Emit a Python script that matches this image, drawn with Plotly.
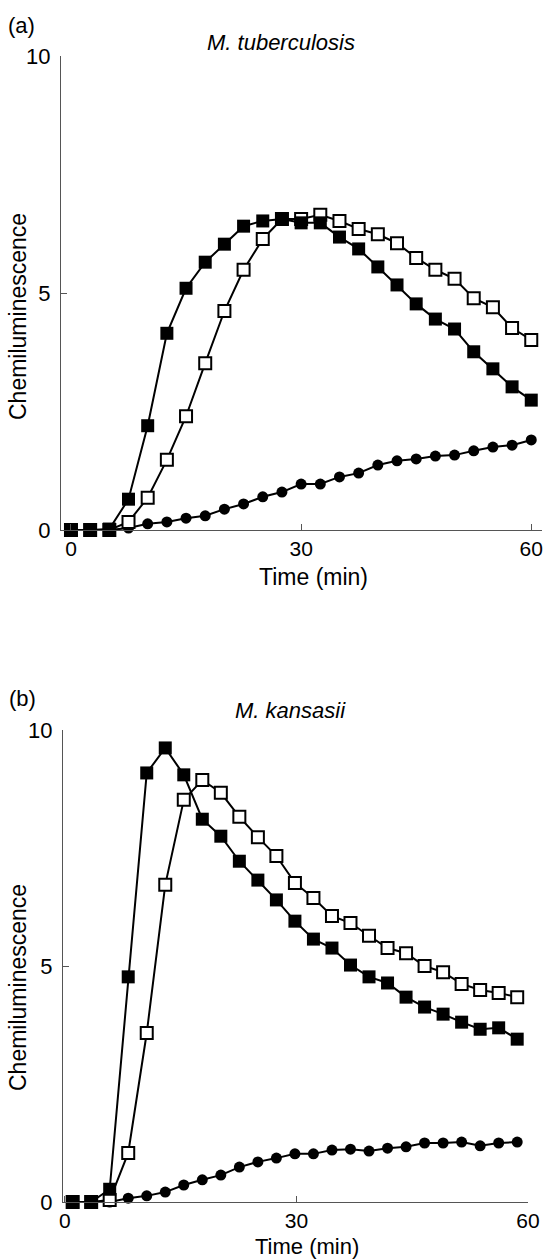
import plotly.graph_objects as go

# ---------------- data ----------------
# panel (a) M. tuberculosis
time_a = [0, 2.5, 5, 7.5, 10, 12.5, 15, 17.5, 20, 22.5, 25, 27.5, 30, 32.5, 35,
          37.5, 40, 42.5, 45, 47.5, 50, 52.5, 55, 57.5, 60]
filled_a = [0.0, 0.0, 0.02, 0.65, 2.2, 4.15, 5.1, 5.65, 6.03, 6.41, 6.52, 6.56,
            6.48, 6.48, 6.18, 5.93, 5.55, 5.17, 4.77, 4.45, 4.24, 3.76, 3.40, 3.02, 2.74]
open_a = [0.0, 0.0, 0.0, 0.17, 0.68, 1.48, 2.4, 3.52, 4.62, 5.49, 6.14, 6.56,
          6.56, 6.65, 6.52, 6.35, 6.24, 6.05, 5.74, 5.49, 5.30, 4.89, 4.70, 4.26, 4.01]
circle_a = [0.0, 0.0, 0.0, 0.04, 0.13, 0.17, 0.25, 0.30, 0.44, 0.55, 0.70, 0.80,
            0.97, 0.97, 1.12, 1.20, 1.37, 1.46, 1.50, 1.56, 1.58, 1.67, 1.75, 1.79, 1.90]

# panel (b) M. kansasii
time_b = [1.0, 3.4, 5.8, 8.2, 10.6, 13.0, 15.4, 17.8, 20.2, 22.6, 25.0, 27.4, 29.8,
          32.2, 34.6, 37.0, 39.4, 41.8, 44.2, 46.6, 49.0, 51.4, 53.8, 56.2, 58.6]
filled_b = [0.0, 0.0, 0.27, 4.77, 9.09, 9.62, 9.05, 8.11, 7.75, 7.22, 6.82, 6.40,
            5.95, 5.57, 5.38, 5.02, 4.77, 4.64, 4.34, 4.13, 3.98, 3.81, 3.66, 3.69, 3.45]
open_b = [0.0, 0.0, 0.04, 1.04, 3.58, 6.72, 8.52, 8.94, 8.67, 8.16, 7.73, 7.33,
          6.76, 6.44, 6.06, 5.91, 5.64, 5.38, 5.27, 5.00, 4.87, 4.62, 4.49, 4.43, 4.34]
circle_b = [0.0, 0.0, 0.0, 0.08, 0.13, 0.21, 0.36, 0.47, 0.57, 0.74, 0.85, 0.93,
            1.02, 1.02, 1.10, 1.12, 1.08, 1.14, 1.17, 1.25, 1.25, 1.27, 1.19, 1.25, 1.27]

x_ticks = [0, 30, 60]
y_ticks = [0, 5, 10]

W, H = 546, 1259
FONT = "Liberation Sans, Arial, Helvetica, sans-serif"
AX = "#555555"

fig = go.Figure()


def add_series(t, y, xa, ya, kind):
    if kind == "circle":
        marker = dict(symbol="circle", size=11, color="black", line=dict(width=0))
    elif kind == "open":
        marker = dict(symbol="square", size=12, color="white",
                      line=dict(color="black", width=2))
    else:
        marker = dict(symbol="square", size=13, color="black", line=dict(width=0))
    fig.add_trace(go.Scatter(x=t, y=y, mode="lines+markers", xaxis=xa, yaxis=ya,
                             line=dict(color="black", width=2), marker=marker,
                             cliponaxis=False, showlegend=False, hoverinfo="skip"))


for t, c, o, f, xa, ya in [(time_a, circle_a, open_a, filled_a, "x", "y"),
                           (time_b, circle_b, open_b, filled_b, "x2", "y2")]:
    add_series(t, c, xa, ya, "circle")
    add_series(t, o, xa, ya, "open")
    add_series(t, f, xa, ya, "filled")


def xaxis(dom, rng, anchor):
    return dict(domain=dom, range=rng, anchor=anchor, tickvals=x_ticks,
                showline=True, linecolor=AX, linewidth=1, ticks="inside",
                ticklen=6, tickcolor=AX, showgrid=False, zeroline=False,
                ticklabelstandoff=0,
                tickfont=dict(family=FONT, size=21, color="black"), automargin=False)


def yaxis(dom, anchor):
    return dict(domain=dom, range=[0, 10], anchor=anchor, tickvals=y_ticks,
                showline=True, linecolor=AX, linewidth=1, ticks="inside",
                ticklen=6, tickcolor=AX, showgrid=False, zeroline=False,
                ticklabelstandoff=5,
                tickfont=dict(family=FONT, size=22, color="black"), automargin=False)


fig.update_layout(
    width=W, height=H,
    margin=dict(l=0, r=0, t=0, b=0),
    paper_bgcolor="white", plot_bgcolor="white",
    xaxis=xaxis([61 / W, 542 / W], [-1.3, 61.4], "y"),
    yaxis=yaxis([1 - 530 / H, 1 - 56 / H], "x"),
    xaxis2=xaxis([63 / W, 528 / W], [-0.25, 60.0], "y2"),
    yaxis2=yaxis([1 - 1202 / H, 1 - 730 / H], "x2"),
)


def ann(text, px, py, size=22, angle=0):
    fig.add_annotation(text=text, x=px / W, y=1 - py / H, xref="paper", yref="paper",
                       showarrow=False, textangle=angle, xanchor="center", yanchor="middle",
                       font=dict(family=FONT, size=size, color="black"))


ann("(a)", 21, 25)
ann("<i>M. tuberculosis</i>", 281, 43)
ann("Chemiluminescence", 18, 317, size=23, angle=-90)
ann("Time (min)", 313, 577, size=23)

ann("(b)", 22, 698)
ann("<i>M. kansasii</i>", 290, 710)
ann("Chemiluminescence", 18, 988, size=23, angle=-90)
ann("Time (min)", 307, 1246, size=22)

fig.write_html("out.html",
               config={"displayModeBar": False, "staticPlot": True},
               post_script="document.body.style.margin='0';document.body.style.overflow='hidden';")
